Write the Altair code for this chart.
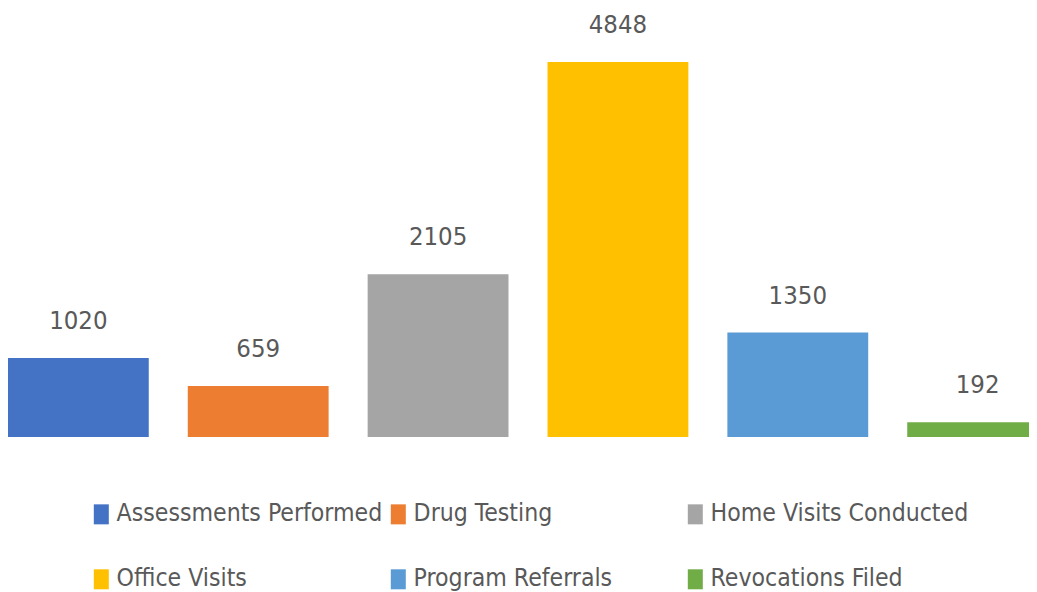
import altair as alt
import pandas as pd

categories = ["Assessments Performed", "Drug Testing", "Home Visits Conducted",
              "Office Visits", "Program Referrals", "Revocations Filed"]
values = [1020, 659, 2105, 4848, 1350, 192]
colors = ["#4472C4", "#ED7D31", "#A5A5A5", "#FFC000", "#5B9BD5", "#70AD47"]

df = pd.DataFrame({"category": categories, "value": values})

FONT = "Liberation Sans Narrow, DejaVu Sans Condensed, sans-serif"
TEXT_COLOR = "#595959"

x_enc = alt.X("category:N", sort=categories, axis=None,
              scale=alt.Scale(range=[-19.5, 1059.5], paddingInner=0.217, paddingOuter=0.108))
y_enc = alt.Y("value:Q", axis=None, scale=alt.Scale(domain=[0, 5546], nice=False, zero=True))

bars = alt.Chart(df).mark_bar(clip=True).encode(
    x=x_enc,
    y=y_enc,
    color=alt.Color(
        "category:N",
        sort=categories,
        scale=alt.Scale(domain=categories, range=colors),
        legend=alt.Legend(
            title=None,
            orient="none",
            legendX=81,
            legendY=494,
            direction="horizontal",
            columns=3,
            gridAlign="all",
            columnPadding=3,
            rowPadding=40,
            padding=0,
            symbolType="M-0.75,-1H0.75V1H-0.75Z",
            symbolSize=400,
            symbolStrokeWidth=0,
            labelFont=FONT,
            labelFontSize=24.6,
            labelColor=TEXT_COLOR,
            labelOffset=3,
            labelLimit=400,
        ),
    ),
)

labels = alt.Chart(df).mark_text(
    baseline="alphabetic", dy=-29, font=FONT, fontSize=25.5, color=TEXT_COLOR
).encode(
    x=x_enc,
    y=y_enc,
    text=alt.Text("value:Q", format="d"),
)

chart = alt.layer(bars, labels).properties(
    width=1021,
    height=429,
    autosize=alt.AutoSizeParams(type="none"),
    padding={"left": 0, "top": 0, "right": 0, "bottom": 155},
    background="white",
).configure_view(stroke=None)

chart.save("out.html", embed_options={"renderer": "svg", "actions": False})
